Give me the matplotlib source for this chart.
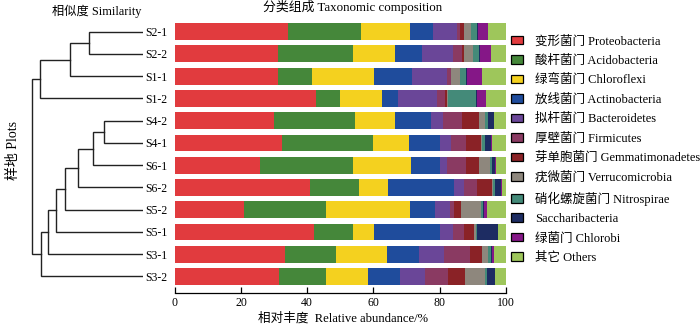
import matplotlib
matplotlib.use("Agg")
import matplotlib.pyplot as plt
import matplotlib.patches as mpatches
import numpy as np

plt.rcParams['font.family'] = ['Liberation Serif', 'Noto Sans CJK SC']

# samples, top to bottom (dendrogram leaf order)
samples = ['S2-1', 'S2-2', 'S1-1', 'S1-2', 'S4-2', 'S4-1',
           'S6-1', 'S6-2', 'S5-2', 'S5-1', 'S3-1', 'S3-2']

phyla = ['变形菌门 Proteobacteria', '酸杆菌门 Acidobacteria', '绿弯菌门 Chloroflexi',
         '放线菌门 Actinobacteria', '拟杆菌门 Bacteroidetes', '厚壁菌门 Firmicutes',
         '芽单胞菌门 Gemmatimonadetes', '疣微菌门 Verrucomicrobia',
         '硝化螺旋菌门 Nitrospirae', 'Saccharibacteria', '绿菌门 Chlorobi', '其它 Others']

colors = ['#E13B3E', '#45873A', '#F4D11F', '#1F4C9C', '#6A4698', '#8A3A62',
          '#8A2226', '#8E877D', '#448A79', '#1D2C62', '#851787', '#9EC65B']

# relative abundance (%) per phylum, one value per sample in the order above
proteobacteria   = [34.3, 31.3, 31.3, 42.8, 30.0, 32.4, 25.7, 40.8, 21.0, 42.0, 33.4, 31.6]
acidobacteria    = [22.0, 22.6, 10.2,  7.0, 24.4, 27.4, 28.2, 14.8, 24.8, 11.9, 15.2, 14.1]
chloroflexi      = [14.8, 12.7, 18.7, 12.8, 12.1, 11.0, 17.5,  8.8, 25.3,  6.2, 15.5, 12.5]
actinobacteria   = [ 6.8,  8.0, 11.3,  4.7, 10.8,  9.2,  8.7, 19.9,  7.5, 19.9,  9.5,  9.9]
bacteroidetes    = [ 7.3,  9.5, 10.7, 11.9,  3.7,  3.4,  2.1,  2.9,  4.4,  4.0,  7.6,  7.4]
firmicutes       = [ 0.8,  2.5,  1.1,  2.4,  5.6,  4.6,  5.8,  4.0,  1.2,  3.2,  7.8,  7.0]
gemmatimonadetes = [ 1.2,  0.6,  0.2,  0.6,  5.1,  4.5,  4.0,  4.7,  2.3,  3.1,  3.8,  5.0]
verrucomicrobia  = [ 2.1,  2.9,  2.7,  0.2,  2.0,  0.4,  3.3,  0.2,  5.9,  0.5,  1.7,  6.1]
nitrospirae      = [ 2.0,  1.9,  1.8,  8.5,  1.0,  0.7,  0.6,  0.6,  0.8,  0.3,  0.9,  0.8]
saccharibacteria = [ 0.2,  0.3,  0.3,  0.2,  1.6,  1.8,  0.8,  1.9,  0.3,  6.4,  0.3,  2.2]
chlorobi         = [ 3.1,  3.1,  4.4,  3.0,  0.2,  0.3,  0.4,  0.2,  0.7,  0.1,  0.8,  0.2]
others           = [ 5.4,  4.6,  7.3,  5.9,  3.5,  4.3,  2.9,  1.2,  5.8,  2.4,  3.5,  3.2]

abundance = [proteobacteria, acidobacteria, chloroflexi, actinobacteria, bacteroidetes,
             firmicutes, gemmatimonadetes, verrucomicrobia, nitrospirae,
             saccharibacteria, chlorobi, others]

# clustering: (child_a, child_b, distance); leaves are 0..11, new clusters 12, 13, ...
merges = [
    (0, 1, 0.537),     # 12: S2-1 + S2-2
    (12, 2, 0.733),    # 13: + S1-1
    (13, 3, 1.030),    # 14: + S1-2
    (4, 5, 0.387),     # 15: S4-2 + S4-1
    (15, 6, 0.503),    # 16: + S6-1
    (16, 7, 0.647),    # 17: + S6-2
    (17, 8, 0.777),    # 18: + S5-2
    (18, 9, 0.870),    # 19: + S5-1
    (19, 10, 0.950),   # 20: + S3-1
    (20, 11, 1.023),   # 21: + S3-2
    (14, 21, 1.107),   # root
]

fig = plt.figure(figsize=(7.0, 3.25), dpi=100)

ax = fig.add_axes([174.7 / 700, 1 - 293.3 / 325, 331.3 / 700, (293.3 - 15) / 325])
axd = fig.add_axes([28 / 700, 1 - 293.3 / 325, 115 / 700, (293.3 - 15) / 325])

y = np.arange(len(samples))
left = np.zeros(len(samples))
for vals, col in zip(abundance, colors):
    ax.barh(y, vals, left=left, height=0.76, color=col, edgecolor='none')
    left += np.array(vals)

ax.set_xlim(0, 100)
ax.set_ylim(11.755, -0.75)
ax.set_xticks([0, 20, 40, 60, 80, 100])
ax.set_yticks(y)
ax.set_yticklabels(samples, fontsize=8.5)
ax.tick_params(axis='y', length=0, pad=5)
ax.tick_params(axis='x', direction='in', length=4.5, width=0.9, labelsize=8.5, pad=3)
for s in ['top', 'right', 'left']:
    ax.spines[s].set_visible(False)
ax.spines['bottom'].set_linewidth(0.9)

# dendrogram
pos = {i: (float(i), 0.0) for i in range(len(samples))}
for k, (a, b, d) in enumerate(merges):
    ya, ha = pos[a]
    yb, hb = pos[b]
    axd.plot([ha, d, d, hb], [ya, ya, yb, yb], color='#222222', lw=1.0,
             solid_joinstyle='miter')
    pos[len(samples) + k] = ((ya + yb) / 2, d)
axd.set_xlim(1.15, 0)
axd.set_ylim(11.755, -0.75)
axd.axis('off')

fig.text(13 / 700, 1 - 151 / 325, '样地 Plots', rotation=90, ha='center', va='center',
         fontsize=10)
fig.text(97 / 700, 1 - 11 / 325, '相似度 Similarity', ha='center', va='center', fontsize=8.8)
fig.text(353 / 700, 1 - 7 / 325, '分类组成 Taxonomic composition', ha='center', va='center',
         fontsize=9.3)
fig.text(343 / 700, 1 - 318 / 325, '相对丰度  Relative abundance/%', ha='center',
         va='center', fontsize=9.1)

handles = [mpatches.Patch(facecolor=c, edgecolor='black', linewidth=0.9, label=l)
           for c, l in zip(colors, phyla)]
fig.legend(handles=handles, loc='upper left', bbox_to_anchor=(511 / 700, 1 - 35 / 325),
           frameon=False, fontsize=9.0, handlelength=0.96, handleheight=0.67,
           handletextpad=0.95, labelspacing=0.595, borderpad=0, borderaxespad=0)

fig.savefig('out.png', dpi=100)
